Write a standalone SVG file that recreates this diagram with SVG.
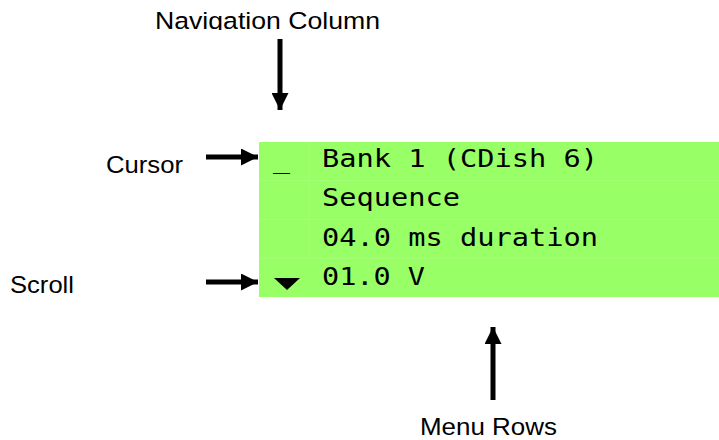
<svg xmlns="http://www.w3.org/2000/svg" width="719" height="440" viewBox="0 0 719 440">
<style>
.lbl{font-family:"Liberation Sans",Arial,sans-serif;font-size:24.5px;fill:#000}
.lcd{font-family:"DejaVu Sans Mono","Liberation Mono",monospace;font-size:24.5px;fill:#000}
.grid{stroke:#a3ff73;stroke-width:1;fill:none}
.conn{stroke:#000;stroke-width:5;fill:none}
</style>
<defs>
<marker id="ah" viewBox="0 0 10 10" refX="10" refY="5" markerWidth="3.4" markerHeight="3.4" orient="auto" markerUnits="strokeWidth">
<path d="M0,0 L10,5 L0,10 z" fill="#000"/>
</marker>
<clipPath id="navclip"><rect x="0" y="0" width="719" height="30"/></clipPath>
</defs>
<rect width="719" height="440" fill="#fff"/>
<g id="display">
<rect x="259" y="142" width="460" height="155" fill="#99ff66"/>
<path class="grid" d="M309,142 V258 M259,180.5 H719 M259,219.5 H719 M259,258.5 H719"/>
<text class="lcd" x="322" y="167" textLength="276" lengthAdjust="spacingAndGlyphs">Bank 1 (CDish 6)</text>
<text class="lcd" x="322" y="206" textLength="138" lengthAdjust="spacingAndGlyphs">Sequence</text>
<text class="lcd" x="322" y="246" textLength="276" lengthAdjust="spacingAndGlyphs">04.0 ms duration</text>
<text class="lcd" x="322" y="285" textLength="103" lengthAdjust="spacingAndGlyphs">01.0 V</text>
<text class="lcd" x="273" y="168" textLength="17" lengthAdjust="spacingAndGlyphs">_</text>
<path d="M274,278 L300,278 L287,290 z" fill="#000"/>
</g>
<g id="nav-label"><text class="lbl" x="155" y="28.5" clip-path="url(#navclip)" textLength="225" lengthAdjust="spacingAndGlyphs">Navigation Column</text></g>
<g id="cursor-label"><text class="lbl" x="106" y="173" textLength="77" lengthAdjust="spacingAndGlyphs">Cursor</text></g>
<g id="scroll-label"><text class="lbl" x="10" y="293" textLength="64" lengthAdjust="spacingAndGlyphs">Scroll</text></g>
<g id="menu-label"><text class="lbl" x="420" y="435" textLength="137" lengthAdjust="spacingAndGlyphs">Menu Rows</text></g>
<g id="connectors">
<line class="conn" x1="280" y1="39" x2="280" y2="110" marker-end="url(#ah)"/>
<line class="conn" x1="206" y1="157" x2="258" y2="157" marker-end="url(#ah)"/>
<line class="conn" x1="206" y1="282" x2="258" y2="282" marker-end="url(#ah)"/>
<line class="conn" x1="493" y1="400" x2="493" y2="327" marker-end="url(#ah)"/>
</g>
</svg>
